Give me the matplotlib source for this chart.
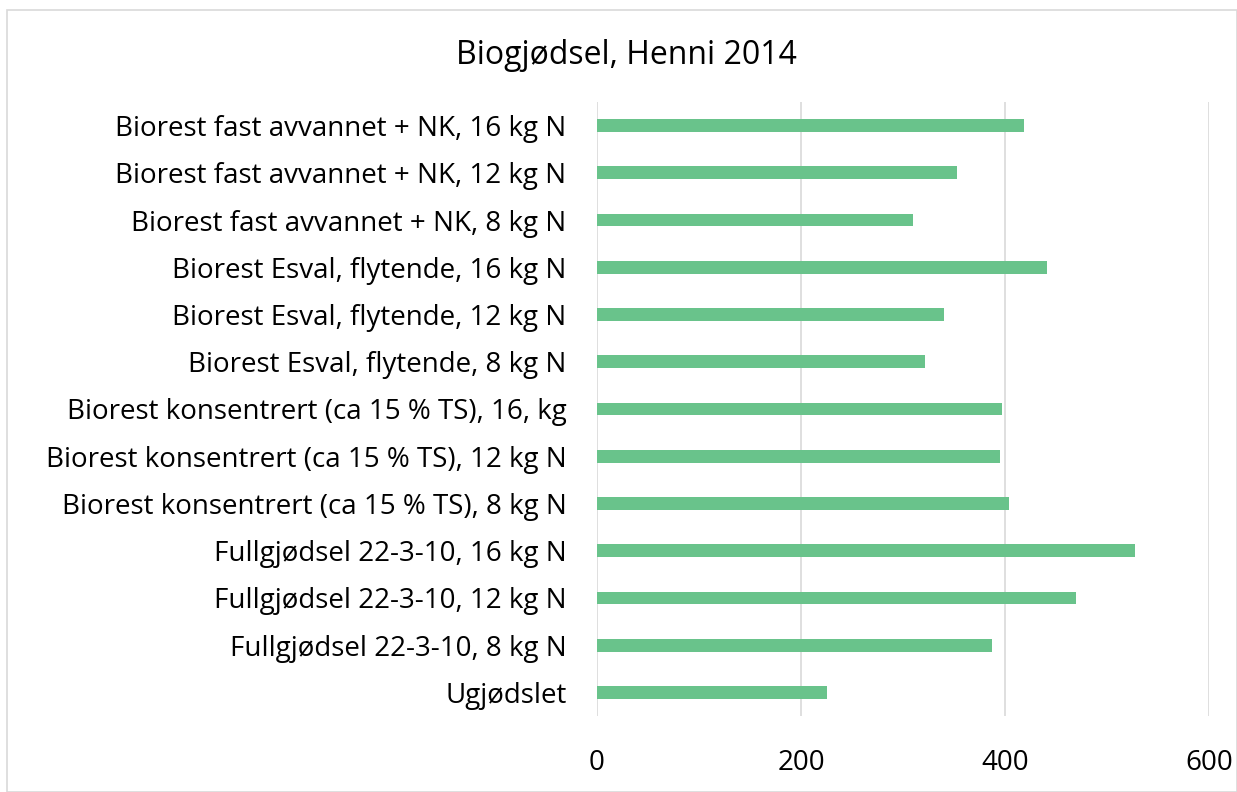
import matplotlib
matplotlib.use("Agg")
import matplotlib.pyplot as plt
from matplotlib.patches import Rectangle

categories = [
    "Ugjødslet",
    "Fullgjødsel 22-3-10, 8 kg N",
    "Fullgjødsel 22-3-10, 12 kg N",
    "Fullgjødsel 22-3-10, 16 kg N",
    "Biorest konsentrert (ca 15 % TS), 8 kg N",
    "Biorest konsentrert (ca 15 % TS), 12 kg N",
    "Biorest konsentrert (ca 15 % TS), 16, kg",
    "Biorest Esval, flytende, 8 kg N",
    "Biorest Esval, flytende, 12 kg N",
    "Biorest Esval, flytende, 16 kg N",
    "Biorest fast avvannet + NK, 8 kg N",
    "Biorest fast avvannet + NK, 12 kg N",
    "Biorest fast avvannet + NK, 16 kg N",
]
values = [225, 387, 470, 527, 404, 395, 397, 322, 340, 441, 310, 353, 419]
xticks = [0, 200, 400, 600]
title = "Biogjødsel, Henni 2014"

plt.rcParams['font.family'] = ['Open Sans', 'DejaVu Sans']

W, H = 1237, 792
fig = plt.figure(figsize=(W / 100, H / 100), dpi=100)
fig.patches.append(Rectangle((7 / W, 0), (W - 7) / W, (H - 10) / H, transform=fig.transFigure,
                             fill=False, edgecolor='#d9d9d9', linewidth=1.2))

left, right = 597 / W, 1209 / W
top, bottom = 102 / H, 716 / H
ax = fig.add_axes([left, 1 - bottom, right - left, bottom - top])

y = list(range(len(categories)))
ax.barh(y, values, height=0.27, color='#69C38B', zorder=3)
ax.set_xlim(0, 600)
ax.set_ylim(-0.5, len(categories) - 0.5)
ax.set_xticks(xticks)
ax.set_xticklabels([str(t) for t in xticks])
ax.set_yticks(y)
ax.set_yticklabels(categories)
ax.grid(axis='x', color='#d9d9d9', linewidth=1.2, zorder=0)
for s in ax.spines.values():
    s.set_visible(False)
ax.tick_params(axis='both', length=0, labelsize=20, colors='black')
ax.tick_params(axis='y', pad=22)
ax.tick_params(axis='x', pad=24)
fig.text((453 + 800) / 2 / W, 1 - 55 / H, title, ha='center', va='center', fontsize=23)

fig.savefig("out.png", dpi=100)
